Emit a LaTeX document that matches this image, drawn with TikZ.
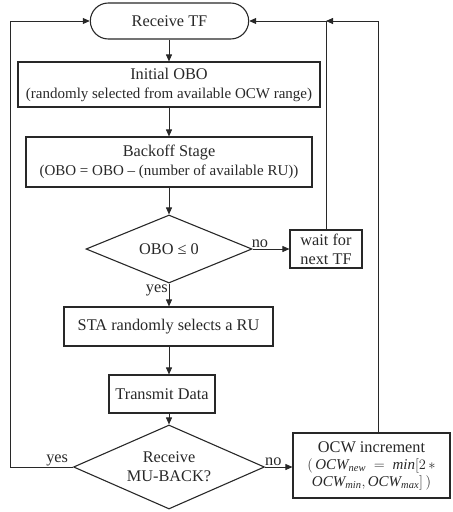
\documentclass[tikz,border=0pt]{standalone}
\usepackage{fontspec}
\setmainfont{Liberation Serif}
\usepackage{tikz}
\usetikzlibrary{arrows.meta, positioning, shapes.geometric, shapes.misc}
\definecolor{inkgray}{RGB}{40,40,40}
\newcommand{\subline}{\fontsize{15}{18}\selectfont}

\begin{document}
\begin{tikzpicture}[x=1pt, y=-1pt,
    every node/.style={text=inkgray, font=\fontsize{16.3}{19}\selectfont},
    proc_box/.style={draw=inkgray, line width=1.1pt, rectangle, align=center, inner sep=2pt},
    terminal/.style={draw=inkgray, line width=1.1pt, rounded rectangle, minimum width=165pt, minimum height=36pt},
    decision/.style={draw=inkgray, line width=1.1pt, diamond, align=center, inner sep=0pt},
    arrow/.style={-{Triangle[length=7pt, width=6pt]}, line width=0.8pt, draw=inkgray},
    lbl/.style={inner sep=1pt}
]
    \useasboundingbox (0,0) rectangle (453,512);

    % main column
    \coordinate (axis) at (169,0);
    \node[terminal] (recv) at (169.5,21) {Receive TF};
    \node[proc_box, minimum width=302pt, minimum height=45pt] (init) at (169,84.5)
        {Initial OBO\\{\subline(randomly selected from available OCW range)}};
    \node[proc_box, minimum width=286pt, minimum height=50pt] (backoff) at (169,162)
        {Backoff Stage\\{\subline(OBO = OBO -- (number of available RU))}};
    \node[decision, minimum width=166pt, minimum height=68pt, aspect=2.44] (obo) at (169,249) {OBO ≤ 0};
    \node[proc_box, minimum width=72pt, minimum height=38pt, inner sep=1pt] (wait) at (326,249) {wait for\\next TF};
    \node[proc_box, minimum width=209pt, minimum height=39pt] (sta) at (168.5,326.5) {STA randomly selects a RU};
    \node[proc_box, minimum width=106pt, minimum height=38pt] (tx) at (162,394) {Transmit Data};
    \node[decision, minimum width=191pt, minimum height=84pt, aspect=2.27] (mu) at (169,467) {Receive\\MU-BACK?};
    \node[proc_box, minimum width=157pt, minimum height=65pt, align=center] (ocw) at (371.5,465.5)
        {OCW increment\\[-2pt]
         {\subline$(\,\mathit{OCW}_{\mathit{new}}\ =\ \mathit{min}[2\,*$}\\[-2pt]
         {\subline$\mathit{OCW}_{\mathit{min}},\mathit{OCW}_{\mathit{max}}]\,)$}};

    % return points
    \coordinate (left_rail) at (10,467);
    \coordinate (ocw_top) at (378,433);

    % straight flow
    \draw[arrow] (recv.south -| axis) -- (init.north -| axis);
    \draw[arrow] (init.south -| axis) -- (backoff.north -| axis);
    \draw[arrow] (backoff.south -| axis) -- (obo.north);
    \draw[arrow] (obo.east) -- node[lbl, above, pos=0.2] {no} (wait.west);
    \draw[arrow] (obo.south) -- node[lbl, left, pos=0.3] {yes} (sta.north -| axis);
    \draw[arrow] (sta.south -| axis) -- (tx.north -| axis);
    \draw[arrow] (tx.south -| axis) -- (mu.north);
    \draw[arrow] (mu.east) -- node[lbl, above, pos=0.3] {no} (ocw.west |- mu.east);

    % loops back to Receive TF
    \draw[arrow] (mu.west) -- node[lbl, above, pos=0.25] {yes} (left_rail) |- (recv.west);
    \draw[arrow] (wait.north) |- (recv.east);
    \draw[arrow] (ocw_top) |- (wait.north |- recv.east);

\end{tikzpicture}
\end{document}
